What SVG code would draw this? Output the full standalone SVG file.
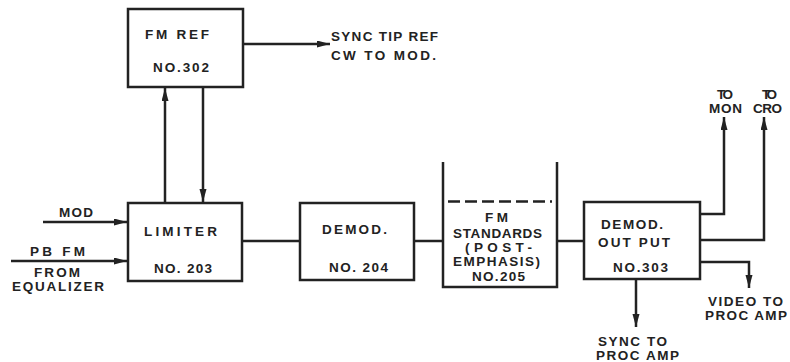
<svg xmlns="http://www.w3.org/2000/svg" width="790" height="362" viewBox="0 0 790 362">
<style>
.box{fill:#fff;stroke:#222;stroke-width:2.5}
.ln{fill:none;stroke:#222;stroke-width:2.5}
.t{font-family:"Liberation Sans",Arial,sans-serif;font-weight:bold;font-size:13.5px;fill:#222}
.m{text-anchor:middle}
</style>
<defs>
<marker id="ah" markerUnits="userSpaceOnUse" markerWidth="14" markerHeight="8" refX="13" refY="3.5" orient="auto">
<path d="M0,0 L13,3.5 L0,7 z" fill="#222"/>
</marker>
</defs>
<rect width="790" height="362" fill="#fff"/>
<g id="connectors">
<line class="ln" x1="243" y1="44" x2="330" y2="44" marker-end="url(#ah)"/>
<line class="ln" x1="165" y1="203" x2="165" y2="88" marker-end="url(#ah)"/>
<line class="ln" x1="203" y1="87" x2="203" y2="202" marker-end="url(#ah)"/>
<line class="ln" x1="43" y1="222" x2="127" y2="222" marker-end="url(#ah)"/>
<line class="ln" x1="11" y1="261" x2="127" y2="261" marker-end="url(#ah)"/>
<line class="ln" x1="242" y1="241" x2="300" y2="241"/>
<line class="ln" x1="414" y1="241" x2="443" y2="241"/>
<line class="ln" x1="557" y1="241" x2="584" y2="241"/>
<polyline class="ln" points="700,214 724,214 724,117" marker-end="url(#ah)"/>
<polyline class="ln" points="700,240 764,240 764,117" marker-end="url(#ah)"/>
<polyline class="ln" points="700,262 749,262 749,288" marker-end="url(#ah)"/>
<line class="ln" x1="636" y1="279" x2="636" y2="327" marker-end="url(#ah)"/>
</g>
<g id="fmref">
<rect class="box" x="128" y="9" width="115" height="78"/>
<text class="t" x="145" y="39" textLength="64">FM REF</text>
<text class="t" x="153" y="72" textLength="56">NO.302</text>
</g>
<g id="limiter">
<rect class="box" x="128" y="203" width="114" height="78"/>
<text class="t" x="144" y="236" textLength="73">LIMITER</text>
<text class="t" x="154" y="273" textLength="58">NO. 203</text>
</g>
<g id="demod">
<rect class="box" x="300" y="203" width="114" height="77"/>
<text class="t" x="322" y="234" textLength="65">DEMOD.</text>
<text class="t" x="329" y="272" textLength="59">NO. 204</text>
</g>
<g id="fmstandards">
<polyline class="ln" points="443,162 443,287 557,287 557,162"/>
<line class="ln" x1="448" y1="201.5" x2="552" y2="201.5" stroke-dasharray="12,5"/>
<text class="t" x="485" y="222" textLength="23">FM</text>
<text class="t" x="453" y="238" textLength="89">STANDARDS</text>
<text class="t" x="465" y="252" textLength="67">(POST-</text>
<text class="t" x="453" y="266" textLength="87">EMPHASIS)</text>
<text class="t" x="472" y="281" textLength="53">NO.205</text>
</g>
<g id="demodoutput">
<rect class="box" x="584" y="202" width="116" height="77"/>
<text class="t" x="601" y="229" textLength="62">DEMOD.</text>
<text class="t" x="598" y="247" textLength="72">OUT PUT</text>
<text class="t" x="613" y="272" textLength="55">NO.303</text>
</g>
<g id="labels">
<text class="t" x="331" y="41" textLength="107">SYNC TIP REF</text>
<text class="t" x="331" y="60" textLength="105">CW TO MOD.</text>
<text class="t" x="59" y="217" textLength="34">MOD</text>
<text class="t" x="30" y="256" textLength="55">PB FM</text>
<text class="t" x="34" y="277" textLength="46">FROM</text>
<text class="t" x="12" y="291" textLength="92">EQUALIZER</text>
<text class="t" x="717" y="99" textLength="16">TO</text>
<text class="t" x="709" y="113" textLength="33">MON</text>
<text class="t" x="762" y="99" textLength="15">TO</text>
<text class="t" x="753" y="113" textLength="29">CRO</text>
<text class="t" x="708" y="306" textLength="75">VIDEO TO</text>
<text class="t" x="705" y="320" textLength="82">PROC AMP</text>
<text class="t" x="598" y="346" textLength="69">SYNC TO</text>
<text class="t" x="596" y="360" textLength="83">PROC AMP</text>
</g>
</svg>
